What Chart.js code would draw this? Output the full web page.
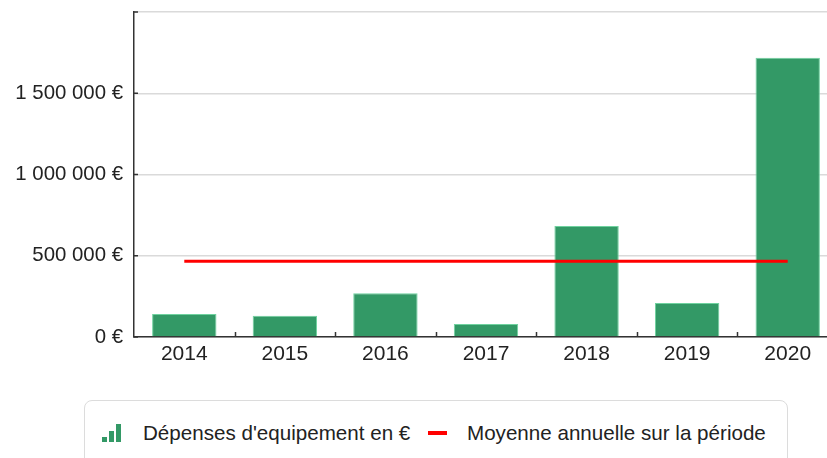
<!DOCTYPE html>
<html>
<head>
<meta charset="utf-8">
<script src="https://cdn.jsdelivr.net/npm/chart.js@4/dist/chart.umd.min.js"></script>
<style>
  html, body { margin: 0; padding: 0; background: #fff; }
  body { width: 827px; height: 458px; overflow: hidden; position: relative; font-family: "Liberation Sans", Arial, sans-serif; }
  #wrap { position: absolute; left: 0; top: 0; width: 845px; height: 380px; }
  #legend { position: absolute; left: 84px; top: 400px; width: 704px; height: 80px; box-sizing: border-box;
            border: 1px solid #dcdcdc; border-radius: 8px; }
  .item { position: absolute; top: 19px; font-size: 20.6px; color: #222; line-height: 26px; white-space: nowrap; }
  .bars { position: absolute; top: 23px; width: 22px; height: 18px; }
  .bars span { position: absolute; bottom: 0; width: 5px; background: #339966; }
  .dash { position: absolute; top: 30px; width: 19px; height: 4px; background: #ff0000; }
</style>
</head>
<body>
<div id="wrap"><canvas id="chart"></canvas></div>
<div id="legend"></div>
<script>
// values
const years = ['2014', '2015', '2016', '2017', '2018', '2019', '2020'];
const depenses = [141000, 131000, 270000, 80000, 683000, 209000, 1718000];
const moyenne = [466000, 466000, 466000, 466000, 466000, 466000, 466000];
const yTicks = [0, 500000, 1000000, 1500000, 2000000];

const labelDepenses = "Dépenses d'equipement en €";
const labelMoyenne = "Moyenne annuelle sur la période";

function euro(v) {
  return String(v).replace(/\B(?=(\d{3})+(?!\d))/g, ' ') + ' €';
}

// small ticks pointing into the plot, like the original
const innerTicks = {
  id: 'innerTicks',
  afterDraw(chart) {
    const ctx = chart.ctx;
    const x = chart.scales.x, y = chart.scales.y;
    ctx.save();
    ctx.strokeStyle = '#333';
    ctx.lineWidth = 1.5;
    for (let i = 1; i < years.length; i++) {
      const px = Math.round((x.getPixelForValue(i - 1) + x.getPixelForValue(i)) / 2) + 0.5;
      ctx.beginPath();
      ctx.moveTo(px, y.bottom - 5);
      ctx.lineTo(px, y.bottom);
      ctx.stroke();
    }
    yTicks.forEach(v => {
      const py = y.getPixelForValue(v);
      ctx.beginPath();
      ctx.moveTo(x.left, py);
      ctx.lineTo(x.left + 4, py);
      ctx.stroke();
    });
    ctx.restore();
  }
};

const chart = new Chart(document.getElementById('chart'), {
  type: 'bar',
  data: {
    labels: years,
    datasets: [
      {
        type: 'line',
        label: labelMoyenne,
        data: moyenne,
        borderColor: '#ff0000',
        borderWidth: 3,
        pointRadius: 0,
        fill: false,
        order: 0
      },
      {
        label: labelDepenses,
        data: depenses,
        backgroundColor: '#339966',
        borderColor: '#6fd29f',
        borderWidth: 1,
        categoryPercentage: 1,
        barPercentage: 0.64,
        order: 1
      }
    ]
  },
  options: {
    responsive: true,
    maintainAspectRatio: false,
    animation: false,
    layout: { padding: { top: 12, right: 7, left: 0, bottom: 0 } },
    plugins: { legend: { display: false }, tooltip: { enabled: false } },
    scales: {
      x: {
        grid: { display: false, drawTicks: false },
        border: { display: true, color: '#333', width: 1.5 },
        ticks: { color: '#222', font: { family: '"Liberation Sans", Arial', size: 21 }, padding: 5 },
        afterFit(scale) { scale.height = 43; }
      },
      y: {
        min: 0,
        max: 2000000,
        afterBuildTicks(scale) { scale.ticks = yTicks.map(v => ({ value: v })); },
        grid: { color: '#dadada', lineWidth: 1.5, drawTicks: false },
        border: { display: true, color: '#333', width: 1.5 },
        ticks: {
          color: '#222',
          font: { family: '"Liberation Sans", Arial', size: 20.4 },
          padding: 11,
          callback: v => (v === 2000000 ? '' : euro(v))
        },
        afterFit(scale) { scale.width = 134; scale.paddingTop = 0; scale.paddingBottom = 0; }
      }
    }
  },
  plugins: [innerTicks]
});

// legend built from the dataset labels
const legend = document.getElementById('legend');
legend.innerHTML =
  '<div class="bars" style="left:17px"><span style="left:0;height:5px"></span>' +
  '<span style="left:7px;height:11px"></span><span style="left:14px;height:18px"></span></div>' +
  '<div class="item" style="left:58px">' + chart.data.datasets[1].label + '</div>' +
  '<div class="dash" style="left:343px"></div>' +
  '<div class="item" style="left:382px">' + chart.data.datasets[0].label + '</div>';
</script>
</body>
</html>
